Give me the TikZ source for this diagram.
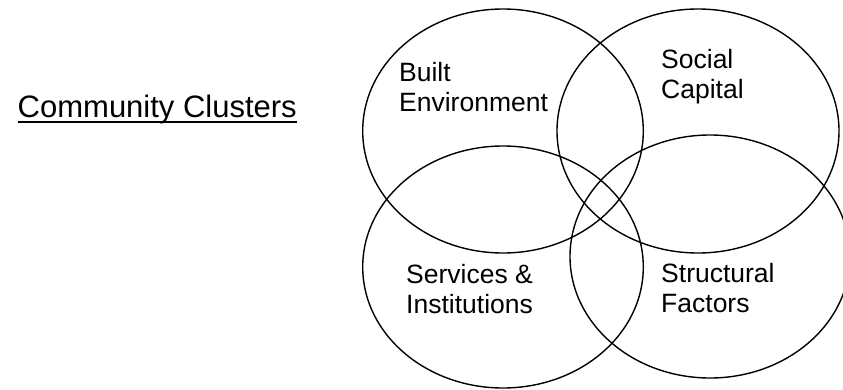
\documentclass[tikz,border=0pt]{standalone}
\usepackage{fontspec}
\setmainfont{Liberation Sans}
\tikzset{
  cluster/.style={line width=1.4pt},
  clusterlabel/.style={anchor=base west,inner sep=0pt,align=left,font=\fontsize{26.5}{30}\selectfont}
}
\begin{document}
\begin{tikzpicture}[x=1pt,y=-1pt]
	%%
  \useasboundingbox (0,0) rectangle (843,389);
  \node (Title) at (297,117) [anchor=base east,inner sep=0pt,font=\fontsize{31}{36}\selectfont] {Community Clusters};
  \draw [line width=2.4pt] ([yshift=-5pt]Title.base west) -- ([yshift=-5pt]Title.base east);
  \draw [cluster] (503,131) ellipse [x radius=140.3pt, y radius=122pt];
  \draw [cluster] (698,131) ellipse [x radius=141pt, y radius=122pt];
  \draw [cluster] (503,267) ellipse [x radius=140.3pt, y radius=121pt];
  \draw [cluster] (710,256.5) ellipse [x radius=140pt, y radius=121.5pt];
  \node (Built) at (399,111.7) [clusterlabel] {Built\\Environment};
  \node (Social) at (661,98.3) [clusterlabel] {Social\\Capital};
  \node (Services) at (406,313) [clusterlabel] {Services \&\\Institutions};
  \node (Structural) at (661,312) [clusterlabel] {Structural\\Factors};
	%
\end{tikzpicture}
\end{document}
